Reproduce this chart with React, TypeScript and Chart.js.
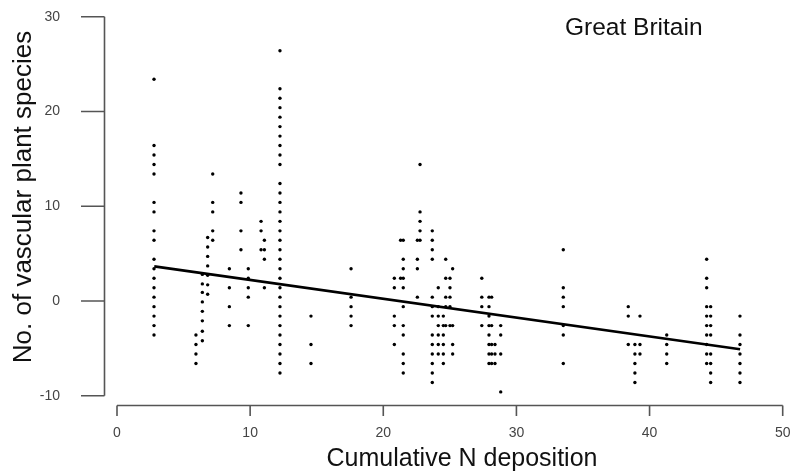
import React, { useEffect, useRef } from "react";
import { Chart, registerables } from "chart.js";

Chart.register(...registerables);

// Column positions (cumulative N deposition) and the species-change values found at each
const columnX = [
  2.78, 5.93, 6.41, 6.81, 7.19, 8.44, 9.31, 9.86, 10.82, 11.07, 12.24, 14.57,
  17.58, 20.83, 21.3, 21.5, 22.56, 22.76, 23.68, 24.13, 24.51, 24.69, 25.01, 25.21,
  27.4, 27.94, 28.14, 28.39, 28.82, 33.52, 38.4, 38.9, 39.28, 41.29, 44.29, 44.59, 46.79,
];

const columnY: number[][] = [
  [23.4, 16.4, 15.4, 14.4, 13.4, 10.4, 9.4, 7.4, 6.4, 4.4, 3.4, 2.4, 1.4, 0.4, -0.6, -1.6, -2.6, -3.6],
  [-3.6, -4.6, -5.6, -6.6],
  [2.8, 1.8, 0.9, -0.1, -1.1, -2.1, -3.2, -4.2],
  [6.7, 5.7, 4.7, 3.7, 2.7, 1.7, 0.7],
  [13.4, 10.4, 9.4, 7.4, 6.4],
  [3.4, 1.4, -0.6, -2.6],
  [11.4, 10.4, 7.4, 5.4],
  [3.4, 2.4, 1.4, 0.4, -2.6],
  [8.4, 7.4, 5.4],
  [6.4, 5.4, 4.4, 1.4],
  [26.4, 22.4, 21.4, 20.4, 19.4, 18.4, 17.4, 16.4, 15.4, 14.4, 12.4, 11.4, 10.4, 9.4, 8.4, 7.4, 6.4, 5.4, 4.4, 3.4, 2.4, 1.4, 0.4, -0.6, -1.6, -2.6, -3.6, -4.6, -5.6, -6.6, -7.6],
  [-1.6, -4.6, -6.6],
  [3.4, 0.4, -0.6, -1.6, -2.6],
  [2.4, 1.4, -1.6, -2.6, -4.6],
  [6.4, 2.4],
  [6.4, 4.4, 3.4, 2.4, 1.4, -0.6, -2.6, -3.6, -5.6, -6.6, -7.6],
  [6.4, 4.4, 3.4, 0.4],
  [14.4, 9.4, 8.4, 7.4, 6.4],
  [7.4, 6.4, 5.4, 4.4, 0.4, -0.6, -1.6, -3.6, -4.6, -5.6, -6.6, -7.6, -8.6],
  [1.4, -0.6, -1.6, -2.6, -3.6, -4.6, -5.6],
  [-1.6, -2.6, -3.6, -4.6, -5.6, -6.6],
  [4.4, 2.4, 0.4, -0.6, -2.6],
  [2.4, 1.4, 0.4, -0.6, -2.6],
  [3.4, -2.6, -4.6, -5.6],
  [2.4, 0.4, -0.6, -2.6],
  [0.4, -0.6, -1.6, -2.6, -3.6, -4.6, -5.6, -6.6],
  [0.4, -2.6, -4.6, -5.6, -6.6],
  [-4.6, -5.6, -6.6],
  [-2.6, -3.6, -5.6, -9.6],
  [5.4, 1.4, 0.4, -0.6, -2.6, -3.6, -6.6],
  [-0.6, -1.6, -4.6],
  [-4.6, -5.6, -6.6, -7.6, -8.6],
  [-1.6, -4.6, -5.6],
  [-3.6, -4.6, -5.6, -6.6],
  [4.4, 2.4, 1.4, -0.6, -1.6, -2.6, -3.6, -4.6, -5.6, -6.6],
  [-0.6, -1.6, -2.6, -3.6, -5.6, -6.6, -7.6, -8.6],
  [-1.6, -3.6, -4.6, -5.6, -6.6, -7.6, -8.6],
];

// Fitted regression line end points
const fitX = [2.8, 46.8];
const fitY = [3.65, -5.1];

const xTicks = [0, 10, 20, 30, 40, 50];
const yTicks = [-10, 0, 10, 20, 30];

const titleText = "Great Britain";
const xTitle = "Cumulative N deposition";
const yTitle = "No. of vascular plant species";

const FONT = "'Liberation Sans', Arial, sans-serif";

export default function App() {
  const ref = useRef<HTMLCanvasElement | null>(null);

  useEffect(() => {
    if (!ref.current) return;
    const points = columnX.flatMap((x, i) => columnY[i].map((y) => ({ x, y })));
    const fit = fitX.map((x, i) => ({ x, y: fitY[i] }));

    const axesPlugin = {
      id: "rAxes",
      afterDraw(chart: any) {
        const { ctx, scales } = chart;
        const xs = scales.x;
        const ys = scales.y;
        ctx.save();
        ctx.strokeStyle = "#555";
        ctx.lineWidth = 1.6;
        // y axis
        const yAxisX = 104.5;
        ctx.beginPath();
        ctx.moveTo(yAxisX, ys.getPixelForValue(yTicks[yTicks.length - 1]));
        ctx.lineTo(yAxisX, ys.getPixelForValue(yTicks[0]));
        yTicks.forEach((v) => {
          const p = ys.getPixelForValue(v);
          ctx.moveTo(81, p);
          ctx.lineTo(yAxisX, p);
        });
        ctx.stroke();
        // x axis
        const xAxisY = 405.5;
        ctx.beginPath();
        ctx.moveTo(xs.getPixelForValue(xTicks[0]), xAxisY);
        ctx.lineTo(xs.getPixelForValue(xTicks[xTicks.length - 1]), xAxisY);
        xTicks.forEach((v) => {
          const p = xs.getPixelForValue(v);
          ctx.moveTo(p, xAxisY);
          ctx.lineTo(p, 416);
        });
        ctx.stroke();

        // texts
        ctx.fillStyle = "#111";
        ctx.font = `24.5px ${FONT}`;
        ctx.textAlign = "left";
        ctx.textBaseline = "alphabetic";
        ctx.fillText(titleText, 565, 35);

        ctx.font = `25px ${FONT}`;
        ctx.textAlign = "center";
        ctx.fillText(xTitle, 462, 466);

        ctx.save();
        ctx.translate(31, 197);
        ctx.rotate(-Math.PI / 2);
        ctx.font = `26px ${FONT}`;
        ctx.textAlign = "center";
        ctx.textBaseline = "alphabetic";
        ctx.fillText(yTitle, 0, 0);
        ctx.restore();
        ctx.restore();
      },
    };

    const chart = new Chart(ref.current, {
      type: "scatter",
      data: {
        datasets: [
          {
            type: "scatter",
            data: points,
            pointRadius: 1.7,
            pointBackgroundColor: "#000",
            pointBorderWidth: 0,
            pointHoverRadius: 1.7,
          },
          {
            type: "line",
            data: fit,
            borderColor: "#000",
            borderWidth: 2.6,
            pointRadius: 0,
            fill: false,
          } as any,
        ],
      },
      options: {
        animation: false,
        responsive: false,
        devicePixelRatio: 1,
        layout: { padding: { top: 16.7, right: 8.3, left: 0, bottom: 0 } },
        plugins: { legend: { display: false }, tooltip: { enabled: false }, title: { display: false } },
        scales: {
          x: {
            type: "linear",
            min: 0,
            max: 50,
            afterBuildTicks: (s: any) => {
              s.ticks = xTicks.map((v) => ({ value: v }));
            },
            afterFit: (s: any) => {
              s.height = 78.3;
            },
            grid: {
              display: true,
              drawOnChartArea: false,
              drawTicks: true,
              tickLength: 29,
              color: "rgba(0,0,0,0)",
            },
            border: { display: false },
            ticks: {
              padding: 0,
              color: "#444",
              font: { family: FONT, size: 14 },
              maxRotation: 0,
            },
          },
          y: {
            type: "linear",
            min: -10,
            max: 30,
            afterBuildTicks: (s: any) => {
              s.ticks = yTicks.map((v) => ({ value: v }));
            },
            afterFit: (s: any) => {
              s.width = 117;
            },
            grid: {
              display: true,
              drawOnChartArea: false,
              drawTicks: true,
              tickLength: 57,
              color: "rgba(0,0,0,0)",
            },
            border: { display: false },
            ticks: {
              padding: 0,
              color: "#444",
              font: { family: FONT, size: 14 },
            },
          },
        },
      },
      plugins: [axesPlugin],
    });
    return () => chart.destroy();
  }, []);

  return (
    <canvas
      ref={ref}
      width={791}
      height={474}
      style={{ position: "absolute", left: 0, top: 0, width: 791, height: 474, display: "block" }}
    />
  );
}
